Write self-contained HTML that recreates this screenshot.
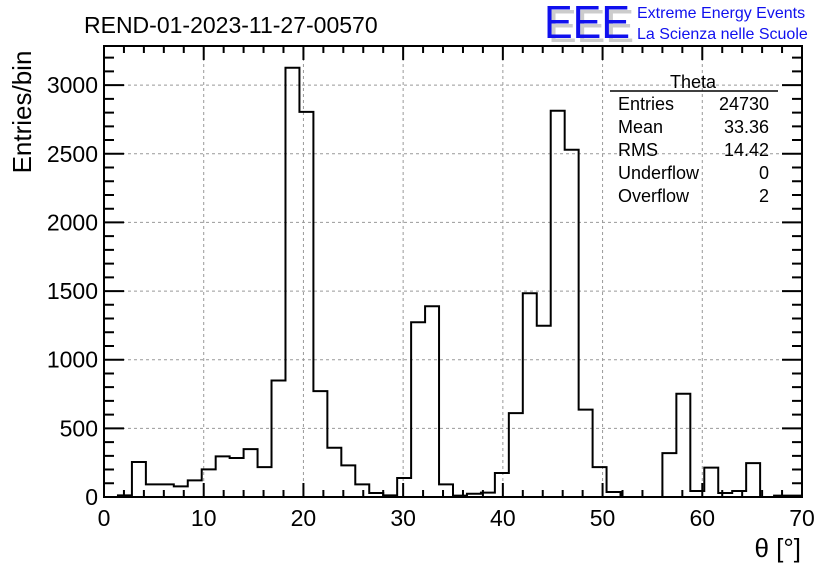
<!DOCTYPE html>
<html><head><meta charset="utf-8"><style>
html,body{margin:0;padding:0;background:#fff;}
svg{display:block;font-family:"Liberation Sans",sans-serif;}
</style></head><body>
<svg id="chart" width="836" height="572" xmlns="http://www.w3.org/2000/svg">
<rect width="836" height="572" fill="#fff"/>
<g id="grid"></g>
<g id="hist"></g>
<g id="axes"></g>
<text x="84" y="33" font-size="23" fill="#000">REND-01-2023-11-27-00570</text>
<g>
<text x="548" y="42" font-size="46" fill="#ccc" textLength="86" lengthAdjust="spacingAndGlyphs">EEE</text>
<text x="544" y="38" font-size="46" fill="#1010ee" textLength="86" lengthAdjust="spacingAndGlyphs">EEE</text>
<text x="637" y="18" font-size="16" fill="#1010ee">Extreme Energy Events</text>
<text x="637" y="39" font-size="16" fill="#1010ee">La Scienza nelle Scuole</text>
</g>
<g font-size="18" fill="#000">
<text x="693" y="88" text-anchor="middle">Theta</text>
<line x1="610" y1="91" x2="778" y2="91" stroke="#000" stroke-width="1.5"/>
<text x="618" y="110">Entries</text><text x="769" y="110" text-anchor="end">24730</text>
<text x="618" y="133">Mean</text><text x="769" y="133" text-anchor="end">33.36</text>
<text x="618" y="156">RMS</text><text x="769" y="156" text-anchor="end">14.42</text>
<text x="618" y="179">Underflow</text><text x="769" y="179" text-anchor="end">0</text>
<text x="618" y="202">Overflow</text><text x="769" y="202" text-anchor="end">2</text>
</g>
<text transform="translate(31,112) rotate(-90)" text-anchor="middle" font-size="26">Entries/bin</text>
<text x="801" y="557" text-anchor="end" font-size="26">θ [°]</text>
</svg>
<script>
const binEdgesStart = 0;
const binWidth = 1.4;
const counts = [0,12,255,92,92,77,121,201,296,284,349,218,849,3127,2805,771,359,230,92,29,12,138,1273,1389,92,10,24,32,175,611,1484,1247,2813,2529,636,218,36,0,0,0,320,752,44,214,29,44,247,0,10,10];
const xTicks = [0,10,20,30,40,50,60,70];
const yTicks = [0,500,1000,1500,2000,2500,3000];

const L=104,R=802,T=46,B=497;
const xMin=0,xMax=70,yMin=0,yMax=3285;
const sx=v=>L+(v-xMin)/(xMax-xMin)*(R-L);
const sy=v=>B-(v-yMin)/(yMax-yMin)*(B-T);
const NS='http://www.w3.org/2000/svg';
function mk(tag,attrs,parent){const e=document.createElementNS(NS,tag);for(const k in attrs)e.setAttribute(k,attrs[k]);parent.appendChild(e);return e;}
const grid=document.getElementById('grid'),axes=document.getElementById('axes'),hist=document.getElementById('hist');

xTicks.forEach(v=>{
  if(v>xMin&&v<xMax){const g=mk('line',{x1:sx(v),x2:sx(v),y1:T,y2:B,stroke:'#999','stroke-dasharray':'3,3','stroke-width':1},grid);
  
  }
  const t=mk('text',{x:sx(v),y:B+29,'text-anchor':'middle','font-size':23},axes);t.textContent=v;
  
  
});
yTicks.forEach(v=>{
  if(v>yMin){const g=mk('line',{x1:L,x2:R,y1:sy(v),y2:sy(v),stroke:'#999','stroke-dasharray':'3,3','stroke-width':1},grid);
  
  }
  const t=mk('text',{x:L-6,y:sy(v)+8,'text-anchor':'end','font-size':23},axes);t.textContent=v;
  
  
});
let tk='';
for(let v=xMin;v<=xMax;v+=2){const big=v%10===0;const l=big?14:7;const x=sx(v);tk+=`M${x},${B}V${B-l}M${x},${T}V${T+l}`;}
for(let v=0;v<=yMax;v+=100){const big=v%500===0;const l=big?20:10;const y=sy(v);tk+=`M${L},${y}H${L+l}M${R},${y}H${R-l}`;}
const ticks=mk('path',{d:tk,stroke:'#000','stroke-width':2,fill:'none'},axes);


const frame=mk('rect',{x:L,y:T,width:R-L,height:B-T,fill:'none',stroke:'#000','stroke-width':2},axes);



let d=`M${sx(binEdgesStart)},${sy(0)}`;
counts.forEach((c,i)=>{const x0=sx(binEdgesStart+i*binWidth),x1=sx(binEdgesStart+(i+1)*binWidth);d+=`L${x0},${sy(c)}L${x1},${sy(c)}`;});
d+=`L${sx(binEdgesStart+counts.length*binWidth)},${sy(0)}`;
const p=mk('path',{d:d,stroke:'#000','stroke-width':2,fill:'none'},hist);


</script>
</body></html>
